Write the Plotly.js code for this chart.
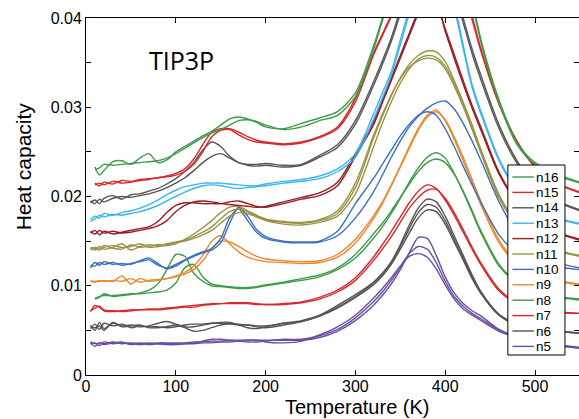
<!DOCTYPE html>
<html><head><meta charset="utf-8">
<script src="https://cdn.plot.ly/plotly-3.0.1.min.js"></script>
<style>html,body{margin:0;padding:0;background:#fff}#chart{width:579px;height:419px}</style>
</head><body><div id="chart"></div>
<script>
// Temperature grid (K)
const temperature = [5,10,15,20,30, 40,50,60,70,80, 90,100,110,120,130, 140,150,160,170,180, 190,200,220,240,260, 280,300,320,330,340, 350,360,370,380,390, 400,410,420,430,440, 460,480,500,525,550];

// Heat capacity readings, in units of 0.001 (several runs per cluster size)
const n5a = [3.6,3.2,3.6,3.5,3.7, 3.5,3.6,3.5,3.6,3.5, 3.5,3.6,3.6,3.7,3.7, 3.8,3.8,3.9,3.9,3.9, 3.9,3.9,3.9,3.9,4.2, 4.9,6.1,7.8,8.9,10.2, 11.8,13.7,15.4,15.3,13.4, 11.0,9.2,8.0,7.2,6.6, 5.1,4.3,3.8,3.4,3.1];
const n5b = [3.5,3.6,3.3,3.7,3.5, 3.6,3.5,3.4,3.5,3.6, 3.6,3.5,3.5,3.6,3.8, 4.0,4.0,3.9,3.8,3.7, 3.7,3.8,4.0,4.0,4.4, 5.1,6.4,8.2,9.3,10.6, 12.1,13.6,14.4,14.1,12.6, 10.5,8.8,7.7,6.9,6.3, 5.0,4.2,3.7,3.3,3.0];
const n5c = [3.7,3.5,3.6,3.4,3.6, 3.7,3.4,3.6,3.4,3.5, 3.4,3.4,3.5,3.5,3.6, 3.6,3.7,3.7,3.8,3.9, 3.9,3.7,3.6,3.8,4.5, 5.4,6.7,8.6,9.7,10.9, 12.2,13.3,13.6,13.2,11.9, 10.1,8.5,7.4,6.7,6.1, 4.9,4.2,3.7,3.3,3.0];
const n6a = [5.6,5.0,5.9,5.2,5.8, 5.5,5.6,5.4,5.5,5.8, 6.0,5.7,5.4,5.4,5.6, 5.8,5.8,5.8,5.7,5.6, 5.5,5.5,5.8,6.1,6.7, 7.8,9.0,10.4,11.4,12.7, 14.6,16.8,18.7,19.7,19.4, 17.8,15.6,13.4,11.2,9.3, 6.8,5.7,5.2,4.9,4.7];
const n6b = [5.2,5.7,5.1,5.8,5.5, 5.7,5.3,5.5,5.4,5.4, 5.3,5.4,5.6,5.7,5.7, 5.8,5.9,5.9,5.6,5.3, 5.2,5.4,5.8,6.0,6.6, 7.6,8.8,10.3,11.3,12.6, 14.4,16.4,18.2,19.1,18.8, 17.3,15.2,13.1,11.0,9.2, 6.7,5.6,5.2,4.9,4.7];
const n6c = [5.4,5.3,5.5,5.0,5.9, 5.4,5.5,5.6,5.3,5.3, 5.4,5.6,5.3,4.9,5.0, 5.3,5.6,5.7,5.6,5.6, 5.4,5.3,5.6,6.0,6.6, 7.5,8.7,10.1,11.1,12.4, 14.1,15.9,17.6,18.5,18.3, 16.9,14.9,12.9,10.8,9.1, 6.7,5.6,5.2,4.9,4.7];
const n7a = [7.1,7.8,7.6,7.2,7.1, 7.2,7.3,7.3,7.4,7.4, 7.5,7.6,7.7,7.8,7.9, 8.0,8.0,8.0,8.0,8.0, 7.9,7.9,8.0,8.2,8.7, 9.5,10.9,13.2,14.6,16.1, 17.7,19.3,20.6,21.3,20.9, 19.6,17.9,16.0,14.1,12.3, 9.4,8.0,7.4,7.0,6.9];
const n7b = [7.2,7.5,7.7,7.3,7.2, 7.1,7.2,7.3,7.3,7.3, 7.4,7.5,7.6,7.6,7.8, 7.9,8.0,8.1,8.1,8.1, 8.0,7.9,7.9,8.1,8.5, 9.3,10.6,12.8,14.1,15.5, 17.1,18.7,19.9,20.7,20.8, 19.8,18.2,16.3,14.3,12.5, 9.6,8.1,7.5,7.1,6.9];
const n8a = [null,8.5,8.7,9.1,8.8, 8.9,9.0,9.2,9.5,10.2, 11.8,13.5,13.3,11.4,10.5, 10.0,9.9,9.8,9.7,9.7, 9.8,10.0,10.3,10.6,11.0, 11.8,13.1,15.3,16.6,18.1, 19.8,21.6,23.2,24.4,24.9, 24.3,22.6,20.5,18.2,15.9, 12.2,10.3,9.3,8.7,8.4];
const n8b = [null,8.6,8.8,8.9,8.9, 9.0,9.1,9.1,9.2,9.3, 9.5,10.3,12.0,12.4,11.0, 10.2,10.0,9.9,9.8,9.8, 9.9,10.1,10.4,10.8,11.2, 12.0,13.5,15.8,17.0,18.4, 19.9,21.4,22.8,23.8,24.2, 23.8,22.5,20.6,18.4,16.1, 12.4,10.4,9.4,8.8,8.5];
const n9a = [10.4,10.5,10.5,10.6,10.5, 11.1,10.2,10.8,10.5,10.6, 10.8,11.1,11.5,12.2,13.4, 15.0,15.6,14.7,13.8,13.2, 12.9,12.7,12.6,12.5,12.6, 13.2,14.8,17.5,19.2,21.2, 23.4,25.6,27.6,29.1,29.7, 28.5,26.4,24.0,21.5,19.0, 14.8,12.4,11.2,10.5,10.1];
const n9b = [10.6,10.4,10.6,10.5,10.6, 10.5,10.8,10.4,10.6,10.7, 10.8,11.0,11.3,11.8,12.8, 14.2,15.0,14.9,14.4,13.8, 13.3,13.0,12.8,12.7,12.8, 13.5,15.2,17.8,19.4,21.3, 23.3,25.4,27.4,28.9,29.5, 28.6,26.7,24.4,21.9,19.4, 15.1,12.6,11.3,10.6,10.2];
const n10a = [12.0,12.6,12.3,12.7,12.4, 12.5,12.4,12.8,13.1,12.5, 11.9,12.2,12.8,13.3,13.7, 14.0,14.8,17.0,18.8,17.8, 16.3,15.5,15.0,14.9,15.0, 16.1,19.2,22.0,23.6,25.2, 26.8,28.1,29.1,29.5,29.1, 27.6,25.6,23.4,21.3,19.3, 15.7,13.6,12.6,12.1,11.8];
const n10b = [12.3,12.2,12.6,12.4,12.6, 12.3,12.5,12.7,12.9,12.3, 12.0,12.4,12.9,13.4,13.8, 14.2,15.3,17.6,18.6,17.3, 16.0,15.3,14.9,14.8,14.9, 15.6,17.6,20.5,22.4,24.4, 26.2,27.8,29.0,29.9,30.5, 30.7,29.8,28.2,26.2,24.0, 19.4,15.9,13.8,12.6,12.0];
const n11a = [14.2,14.0,14.4,14.1,14.3, 14.7,14.0,14.4,14.6,14.5, 14.7,14.9,15.1,15.5,16.0, 16.6,17.5,18.3,18.6,18.3, 17.8,17.4,17.1,17.0,17.3, 18.1,21.0,26.5,29.0,31.3, 33.3,34.8,35.8,36.3,36.2, 35.1,33.0,30.6,28.0,25.2, 20.2,17.0,15.2,14.0,13.4];
const n11b = [14.0,14.3,14.1,14.5,14.2, 14.1,14.6,14.3,14.4,14.6, 14.6,14.8,15.0,15.3,15.7, 16.2,17.0,17.8,18.2,18.1, 17.7,17.3,16.9,16.8,17.1, 17.8,20.3,25.5,28.2,30.6, 32.7,34.3,35.4,35.8,35.6, 34.6,32.7,30.3,27.7,25.0, 20.0,16.9,15.1,13.9,13.3];
const n11c = [14.3,14.2,14.0,14.3,14.5, 14.3,14.4,14.7,14.3,14.4, 14.5,14.7,15.2,15.8,16.5, 17.3,18.2,18.8,18.9,18.4, 17.9,17.5,17.2,17.1,17.4, 18.4,21.5,26.8,29.2,31.4, 33.2,34.5,35.2,35.5,35.3, 34.3,32.4,30.1,27.5,24.8, 19.8,16.8,15.0,13.9,13.3];
const n12a = [15.9,16.2,15.7,16.1,15.8, 16.0,16.2,16.4,16.6,17.2, 18.2,19.0,19.3,19.3,19.2, 19.2,19.2,19.4,19.5,19.2, 18.9,18.8,19.2,19.7,20.1, 21.2,24.5,28.0,30.5,33.0, 35.5,38.0,40.5,42.3,41.8, 38.5,35.5,32.6,29.9,27.4, 22.5,19.3,17.3,15.9,15.1];
const n12b = [16.1,15.8,16.2,15.9,16.1, 15.9,16.0,16.2,16.4,16.7, 17.3,18.3,19.0,19.4,19.5, 19.4,19.2,19.1,19.0,18.9, 18.8,18.9,19.4,19.9,20.4, 21.6,24.8,28.3,30.8,33.3, 35.8,38.3,40.7,42.0,41.5, 38.8,35.9,33.0,30.2,27.7, 22.7,19.4,17.4,16.0,15.2];
const n13a = [17.4,17.8,17.6,18.1,17.9, 18.2,18.4,18.7,19.1,19.6, 20.2,20.7,21.1,21.3,21.5, 21.5,21.5,21.4,21.3,21.2, 21.2,21.4,21.7,21.9,22.3, 23.1,24.8,29.2,31.6,34.0, 37.5,41.0,44.0,46.0,46.0, 44.0,41.5,37.0,32.5,29.5, 24.2,20.8,18.9,17.6,17.0];
const n13b = [17.2,17.5,17.9,17.7,18.0, 17.9,18.1,18.3,18.6,19.0, 19.5,20.0,20.5,20.9,21.2, 21.3,21.2,21.0,20.9,21.0, 21.1,21.2,21.5,21.7,22.0, 22.8,24.4,28.6,31.0,33.6, 37.0,40.5,43.5,45.5,45.5, 43.5,41.0,36.6,32.2,29.2, 24.0,20.6,18.7,17.5,16.9];
const n14a = [19.3,19.6,19.2,19.8,20.1, 19.7,20.2,20.3,20.6,20.9, 21.4,22.0,22.8,23.8,25.2, 26.1,25.6,24.5,23.8,23.6, 23.6,23.7,23.5,23.6,24.6, 25.8,28.5,32.8,35.2,37.8, 41.0,45.0,48.0,50.0,49.0, 46.5,43.5,40.0,36.5,33.5, 28.0,24.0,21.3,19.5,18.5];
const n14b = [19.5,19.2,19.7,19.4,19.8, 20.0,19.9,20.1,20.3,20.6, 21.0,21.5,22.1,22.9,23.8, 24.5,24.8,24.3,23.8,23.5, 23.4,23.5,23.3,23.5,24.4, 25.5,28.1,32.4,34.8,37.4, 40.5,44.5,47.5,49.0,48.5, 46.0,43.0,39.5,36.0,33.0, 27.6,23.7,21.1,19.4,18.4];
const n15a = [null,21.5,21.2,21.6,21.4, 21.8,21.7,21.9,22.0,22.1, 22.3,22.6,23.1,24.2,25.8, 27.2,27.6,27.6,27.2,26.7, 26.3,26.1,25.9,26.1,26.7, 27.8,31.0,36.0,38.2,40.4, 43.5,47.0,50.0,52.0,51.5, 50.0,47.5,44.0,40.2,36.5, 30.5,26.2,23.4,21.5,20.5];
const n15b = [null,21.3,21.5,21.3,21.7, 21.5,21.6,21.8,21.9,22.1, 22.2,22.4,22.8,23.6,25.0, 26.7,27.4,27.5,26.9,26.4, 26.1,26.0,25.8,26.0,26.6, 27.6,30.6,35.8,38.0,40.2, 43.2,46.5,49.5,51.5,51.0, 49.5,47.0,43.6,39.8,36.2, 30.3,26.1,23.3,21.4,20.4];
const n16a = [null,23.3,22.4,22.9,23.9, 24.0,23.6,24.3,24.8,23.8, 24.1,25.0,25.6,26.2,26.8, 27.3,28.0,28.7,28.9,28.7, 28.3,27.8,27.6,28.2,28.8, 29.5,31.6,36.8,40.0,43.5, 47.0,50.0,52.5,54.0,54.0, 52.5,50.0,46.5,42.0,37.5, 30.8,26.0,23.8,22.5,21.6];
const n16b = [null,23.0,23.2,23.6,23.5, 23.6,23.7,23.8,23.9,24.0, 24.3,24.8,25.4,26.0,26.6, 27.1,27.5,28.0,28.5,28.6, 28.4,28.0,27.5,27.8,28.5, 29.1,31.2,36.4,39.7,43.0, 46.5,49.5,52.0,53.5,53.5, 52.0,49.5,46.0,41.6,37.2, 30.5,25.8,23.6,22.3,21.5];

const seriesNames = ['n5','n6','n7','n8','n9','n10','n11','n12','n13','n14','n15','n16'];
const seriesColors = ['#6b4fa3','#555555','#d7282c','#3d9b49','#e8892e','#3c6fc0','#9b9344','#971c1f','#3ab4f2','#555555','#d7282c','#3d9b49'];
const seriesRuns = [[n5a,n5b,n5c],[n6a,n6b,n6c],[n7a,n7b],[n8a,n8b],[n9a,n9b],[n10a,n10b],[n11a,n11b,n11c],[n12a,n12b],[n13a,n13b],[n14a,n14b],[n15a,n15b],[n16a,n16b]];
const yUnit = 0.001;

const traces = [];
seriesRuns.forEach((runs, i) => {
  runs.forEach((run, j) => {
    traces.push({
      type: 'scatter', mode: 'lines', x: temperature,
      y: run.map(v => v == null ? null : v * yUnit),
      name: seriesNames[i], legendgroup: seriesNames[i], showlegend: false,
      line: {color: seriesColors[i], width: 1.4, shape: 'spline', smoothing: 0.8},
      hoverinfo: 'x+y+name'
    });
  });
});

// plot-area pixel geometry
const W = 579, H = 419, PL = 86, PR = 578, PT = 18, PB = 375;
const px2x = p => (p - PL) / (PR - PL);
const py2y = p => (PB - p) / (PB - PT);

const shapes = [];
const annotations = [];

// legend box (drawn as shapes + text so its compact spacing matches)
const LEG = {left: 507, right: 564, top: 165, bottom: 355, lineX0: 511.5, lineX1: 533, textX: 534, firstY: 177, step: 15.4};
shapes.push({type: 'rect', xref: 'paper', yref: 'paper', layer: 'above',
  x0: px2x(LEG.left), x1: px2x(LEG.right), y0: py2y(LEG.bottom), y1: py2y(LEG.top),
  line: {color: '#000', width: 1}, fillcolor: '#fff'});
const legendOrder = seriesNames.map((n, i) => i).reverse();
legendOrder.forEach((si, k) => {
  const yy = py2y(LEG.firstY + k * LEG.step);
  shapes.push({type: 'line', xref: 'paper', yref: 'paper', layer: 'above',
    x0: px2x(LEG.lineX0), x1: px2x(LEG.lineX1), y0: yy, y1: yy,
    line: {color: seriesColors[si], width: 1.4}});
  annotations.push({xref: 'paper', yref: 'paper', x: px2x(LEG.textX), y: yy,
    xanchor: 'left', yanchor: 'middle', showarrow: false, text: seriesNames[si], borderpad: 0,
    font: {family: 'Liberation Sans, Arial, sans-serif', size: 13.5, color: '#000'}});
});

annotations.push({xref: 'paper', yref: 'paper', x: px2x(181.5), y: py2y(59.5),
  xanchor: 'center', yanchor: 'middle', showarrow: false, text: 'TIP3P',
  font: {family: 'Open Sans, Liberation Sans, sans-serif', size: 25, color: '#000'}});
annotations.push({xref: 'paper', yref: 'paper', x: px2x(356.5), y: py2y(419), borderpad: 0,
  xanchor: 'center', yanchor: 'bottom', showarrow: false, text: 'Temperature (K)',
  font: {family: 'Liberation Sans, Arial, sans-serif', size: 20, color: '#000'}});
annotations.push({xref: 'paper', yref: 'paper', x: px2x(24), y: py2y(166.5),
  xanchor: 'center', yanchor: 'middle', showarrow: false, text: 'Heat capacity', textangle: -90,
  font: {family: 'Liberation Sans, Arial, sans-serif', size: 21, color: '#000'}});

const axisFont = {family: 'Liberation Sans, Arial, sans-serif', size: 16, color: '#000'};
const layout = {
  width: W, height: H,
  margin: {l: PL, r: W - 1 - PR, t: PT, b: H - PB, pad: 0},
  paper_bgcolor: '#fff', plot_bgcolor: '#fff',
  showlegend: false,
  xaxis: {range: [0, 549], tick0: 0, dtick: 100, ticks: 'inside', ticklen: 5, tickwidth: 1, tickcolor: '#000',
    showline: true, linecolor: '#000', linewidth: 1, mirror: 'ticks', showgrid: false, zeroline: false,
    ticklabelstandoff: -3, tickfont: axisFont},
  yaxis: {range: [0, 0.04], tick0: 0, dtick: 0.01, ticks: 'inside', ticklen: 5, tickwidth: 1, tickcolor: '#000',
    minor: {dtick: 0.005, ticks: 'inside', ticklen: 5, tickwidth: 1, tickcolor: '#000', showgrid: false},
    showline: true, linecolor: '#000', linewidth: 1, mirror: 'ticks', showgrid: false, zeroline: false,
    tickfont: axisFont},
  shapes: shapes,
  annotations: annotations
};

Plotly.newPlot('chart', traces, layout, {displayModeBar: false, staticPlot: true});
</script>
</body></html>
